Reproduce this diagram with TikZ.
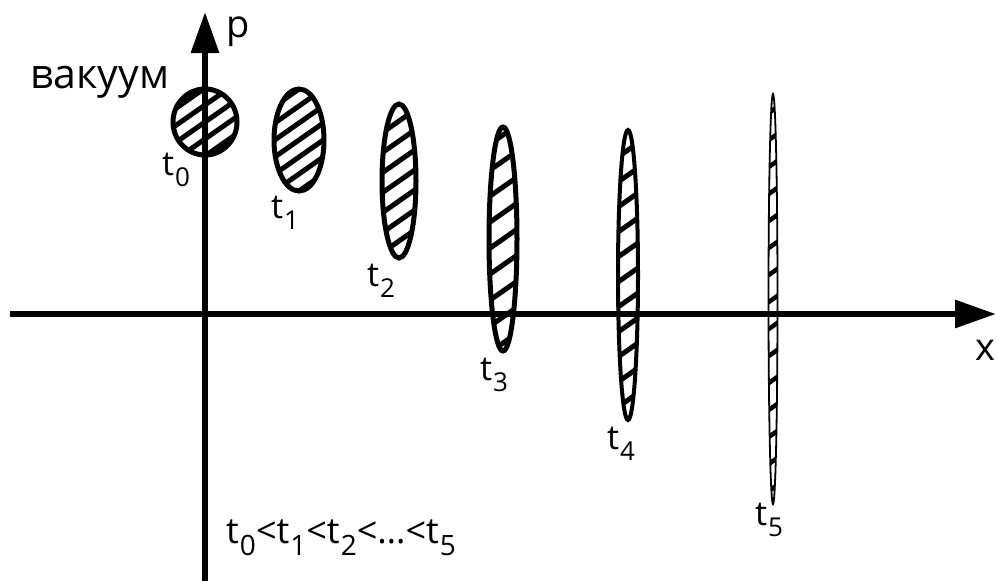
\documentclass[tikz,border=0pt]{standalone}
\usepackage{fontspec}
\setmainfont{Open Sans}
\usetikzlibrary{arrows.meta,calc}
\newcommand\tsubl[1]{t\kern0.03em\raisebox{-0.32em}{\fontsize{26}{28}\selectfont #1}}
\newcommand\tsubb[1]{t\kern0.03em\raisebox{-0.32em}{\fontsize{28}{30}\selectfont #1}}
\tikzset{
  axis/.style={line width=6pt,-{Triangle[length=41pt,width=27pt]}},
  lbl/.style={inner sep=0pt,font=\fontsize{34}{38}\selectfont},
}
% #1 cx, #2 cy, #3 rx, #4 ry, #5 spacing, #6 border width, #7 hatch width
\newcommand\phaseell[7]{%
  \begin{scope}
    \clip (#1,#2) ellipse [x radius=#3, y radius=#4];
    \foreach \k in {-12,...,12}{
      \draw[line width=#7] ($(#1,#2)+(-60,\k*#5+42)$) -- ($(#1,#2)+(60,\k*#5-42)$);
    }
  \end{scope}
  \draw[line width=#6] (#1,#2) ellipse [x radius=#3, y radius=#4];
}
\begin{document}
\begin{tikzpicture}[x=1pt,y=-1pt]
\useasboundingbox (0,0) rectangle (997,581);
\coordinate (ybot) at (205,581);
\coordinate (ytop) at (205,12);
\coordinate (xl) at (10,314);
\coordinate (xr) at (996,314);
\draw[axis] (ybot) -- (ytop);
\draw[axis] (xl) -- (xr);
\node[lbl,font=\fontsize{38}{40}\selectfont] (p) at (238,32) {p};
\node[lbl,font=\fontsize{38}{40}\selectfont] (x) at (985,350) {x};
\node[lbl,font=\fontsize{41}{44}\selectfont] (vac) at (100,82) {вакуум};
\phaseell{205}{122}{32}{33}{17}{5}{5}
\phaseell{299}{140}{25}{51}{17}{5}{5}
\phaseell{399}{181}{17}{77}{20}{5}{5}
\phaseell{503}{239}{14}{112}{26}{5}{5}
\phaseell{628}{275}{10}{145}{25}{4}{5}
\phaseell{773}{299}{4.5}{205}{27}{1.8}{4.5}
\node[lbl] (l0) at (176,170) {\tsubl{0}};
\node[lbl] (l1) at (285,213) {\tsubl{1}};
\node[lbl] (l2) at (381,281) {\tsubl{2}};
\node[lbl] (l3) at (494,375) {\tsubl{3}};
\node[lbl] (l4) at (621,444) {\tsubl{4}};
\node[lbl] (l5) at (769,520) {\tsubl{5}};
\node[lbl,anchor=west,font=\fontsize{36}{40}\selectfont] (ord) at (226,538) {\tsubb{0}<\tsubb{1}<\tsubb{2}<…<\tsubb{5}};
\end{tikzpicture}
\end{document}
